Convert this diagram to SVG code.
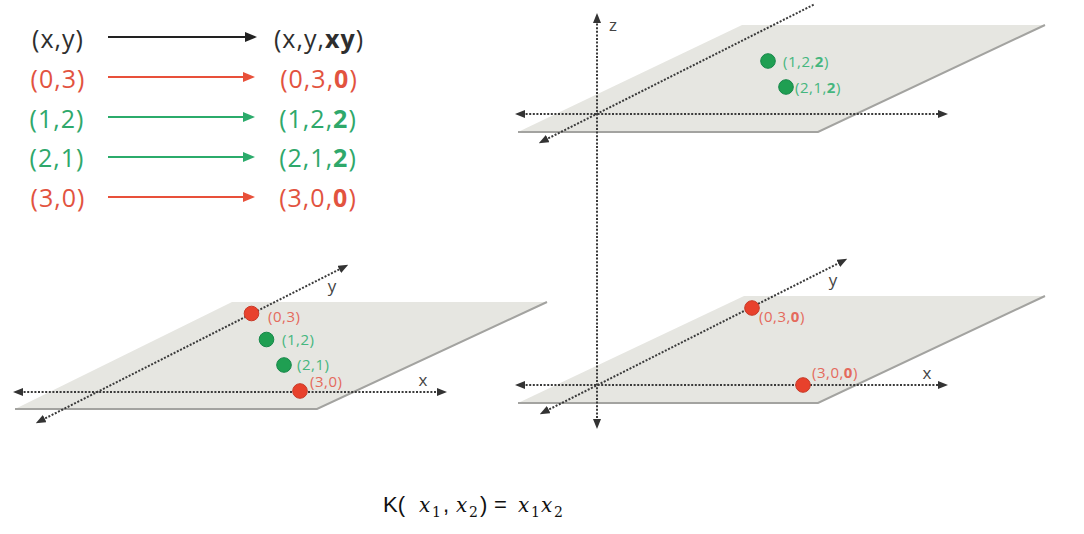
<svg xmlns="http://www.w3.org/2000/svg" width="1084" height="534" viewBox="0 0 1084 534">
<style>
.lg{font-family:"Open Sans","Liberation Sans",sans-serif;font-size:25px;letter-spacing:1px;text-anchor:middle}
.blk{fill:#2e2e2e}.red{fill:#e2533f}.grn{fill:#2fa86b}
.lbl{font-family:"Open Sans","Liberation Sans",sans-serif;font-size:15px;letter-spacing:0.5px}
.rl{fill:#e46a5c}.gl{fill:#45b67e}
.ax{font-family:"Open Sans","Liberation Sans",sans-serif;font-size:17px;fill:#444;text-anchor:middle}
.plane{fill:#e6e6e1}
.edge{fill:none;stroke:#a3a3a0;stroke-width:2}
.axis{stroke:#3a3a3a;stroke-width:2;stroke-dasharray:2 1.6;fill:none}
.rd{fill:#e8412c;stroke:#c73a28;stroke-width:1}
.gd{fill:#1f9f52;stroke:#17874a;stroke-width:1}
.la{stroke-width:2.2;fill:none}
.mf{font-family:"DejaVu Serif","Liberation Serif",serif;font-style:italic;font-size:20px;fill:#111}
.ms{font-family:"DejaVu Serif","Liberation Serif",serif;font-size:14px;fill:#111}
.mt{font-family:"Liberation Sans",Arial,sans-serif;font-size:22px;fill:#111}
</style>
<defs>
<marker id="ab" viewBox="0 0 12 10" refX="5" refY="5" markerWidth="12" markerHeight="10" markerUnits="userSpaceOnUse" orient="auto"><path d="M0,0 L12,5 L0,10 z" fill="#222"/></marker>
<marker id="ar" viewBox="0 0 12 10" refX="5" refY="5" markerWidth="12" markerHeight="10" markerUnits="userSpaceOnUse" orient="auto"><path d="M0,0 L12,5 L0,10 z" fill="#e8503a"/></marker>
<marker id="ag" viewBox="0 0 12 10" refX="5" refY="5" markerWidth="12" markerHeight="10" markerUnits="userSpaceOnUse" orient="auto"><path d="M0,0 L12,5 L0,10 z" fill="#2bab6b"/></marker>
<marker id="ax" viewBox="0 0 10 8" refX="3" refY="4" markerWidth="10" markerHeight="8" markerUnits="userSpaceOnUse" orient="auto-start-reverse"><path d="M0,0 L10,4 L0,8 z" fill="#333"/></marker>
</defs>

<g id="legend">
<text class="lg blk" x="58" y="48">(x,y)</text>
<text class="lg red" x="58" y="88">(0,3)</text>
<text class="lg grn" x="57" y="128">(1,2)</text>
<text class="lg grn" x="57" y="167">(2,1)</text>
<text class="lg red" x="58" y="207">(3,0)</text>
<text class="lg blk" x="319" y="48">(x,y,<tspan font-weight="bold">xy</tspan>)</text>
<text class="lg red" x="319" y="88">(0,3,<tspan font-weight="bold">0</tspan>)</text>
<text class="lg grn" x="318" y="128">(1,2,<tspan font-weight="bold">2</tspan>)</text>
<text class="lg grn" x="318" y="167">(2,1,<tspan font-weight="bold">2</tspan>)</text>
<text class="lg red" x="318" y="207">(3,0,<tspan font-weight="bold">0</tspan>)</text>
</g>

<g id="connectors">
<line class="la" x1="108" y1="37" x2="250" y2="37" stroke="#222" marker-end="url(#ab)"/>
<line class="la" x1="108" y1="77" x2="248" y2="77" stroke="#e8503a" marker-end="url(#ar)"/>
<line class="la" x1="108" y1="117" x2="248" y2="117" stroke="#2bab6b" marker-end="url(#ag)"/>
<line class="la" x1="108" y1="157" x2="248" y2="157" stroke="#2bab6b" marker-end="url(#ag)"/>
<line class="la" x1="108" y1="197" x2="248" y2="197" stroke="#e8503a" marker-end="url(#ar)"/>
</g>

<g id="plane-2d">
<polygon class="plane" points="232,302 547,302 317,409 15,409"/>
<polyline class="edge" points="547,302 317,409 15,409"/>
<line class="axis" x1="20" y1="392" x2="440" y2="392" marker-start="url(#ax)" marker-end="url(#ax)"/>
<line class="axis" x1="42" y1="420" x2="342" y2="268" marker-start="url(#ax)" marker-end="url(#ax)"/>
<text class="ax" x="332" y="292">y</text>
<text class="ax" x="423" y="386">x</text>
<circle class="rd" cx="251.5" cy="313.5" r="7.3"/>
<circle class="gd" cx="266.5" cy="339.5" r="7.3"/>
<circle class="gd" cx="284" cy="365" r="7.3"/>
<circle class="rd" cx="300" cy="391" r="7.3"/>
<text class="lbl rl" x="268" y="322">(0,3)</text>
<text class="lbl gl" x="282" y="345">(1,2)</text>
<text class="lbl gl" x="297" y="370">(2,1)</text>
<text class="lbl rl" x="310" y="387">(3,0)</text>
</g>

<g id="plane-3d-top">
<polygon class="plane" points="742,25 1045,25 818,132 518,132"/>
<polyline class="edge" points="1045,25 818,132 518,132"/>
<line class="axis" x1="522" y1="114" x2="941" y2="114" marker-start="url(#ax)" marker-end="url(#ax)"/>
<line class="axis" x1="545" y1="140" x2="815" y2="4" marker-start="url(#ax)"/>
<circle class="gd" cx="768" cy="61" r="7.3"/>
<circle class="gd" cx="786" cy="87" r="7.3"/>
<text class="lbl gl" x="783" y="67" font-size="14px">(1,2,<tspan font-weight="bold">2</tspan>)</text>
<text class="lbl gl" x="795" y="93" font-size="14px">(2,1,<tspan font-weight="bold">2</tspan>)</text>
</g>

<g id="plane-3d-bottom">
<polygon class="plane" points="744,296 1045,296 818,403 518,403"/>
<polyline class="edge" points="1045,296 818,403 518,403"/>
<line class="axis" x1="522" y1="385" x2="941" y2="385" marker-start="url(#ax)" marker-end="url(#ax)"/>
<line class="axis" x1="546" y1="411" x2="841" y2="262" marker-start="url(#ax)" marker-end="url(#ax)"/>
<text class="ax" x="833" y="286">y</text>
<text class="ax" x="927" y="379">x</text>
<circle class="rd" cx="752" cy="308" r="7.3"/>
<circle class="rd" cx="803" cy="385" r="7.3"/>
<text class="lbl rl" x="759" y="322" font-size="14px">(0,3,<tspan font-weight="bold">0</tspan>)</text>
<text class="lbl rl" x="812" y="378" font-size="14px">(3,0,<tspan font-weight="bold">0</tspan>)</text>
</g>

<g id="z-axis">
<line class="axis" x1="597" y1="20" x2="597" y2="422" marker-start="url(#ax)" marker-end="url(#ax)"/>
<text class="ax" x="613" y="31" font-size="16px">z</text>
</g>

<g id="formula">
<text class="mt" x="383" y="512">K(</text>
<text class="mf" x="419" y="512">x</text>
<text class="ms" x="432" y="517">1</text>
<text class="mt" x="443" y="512">,</text>
<text class="mf" x="456" y="512">x</text>
<text class="ms" x="469" y="517">2</text>
<text class="mt" x="480" y="512">)</text>
<text class="mt" x="494" y="512">=</text>
<text class="mf" x="518" y="512">x</text>
<text class="ms" x="531" y="517">1</text>
<text class="mf" x="541" y="512">x</text>
<text class="ms" x="554" y="517">2</text>
</g>
</svg>
